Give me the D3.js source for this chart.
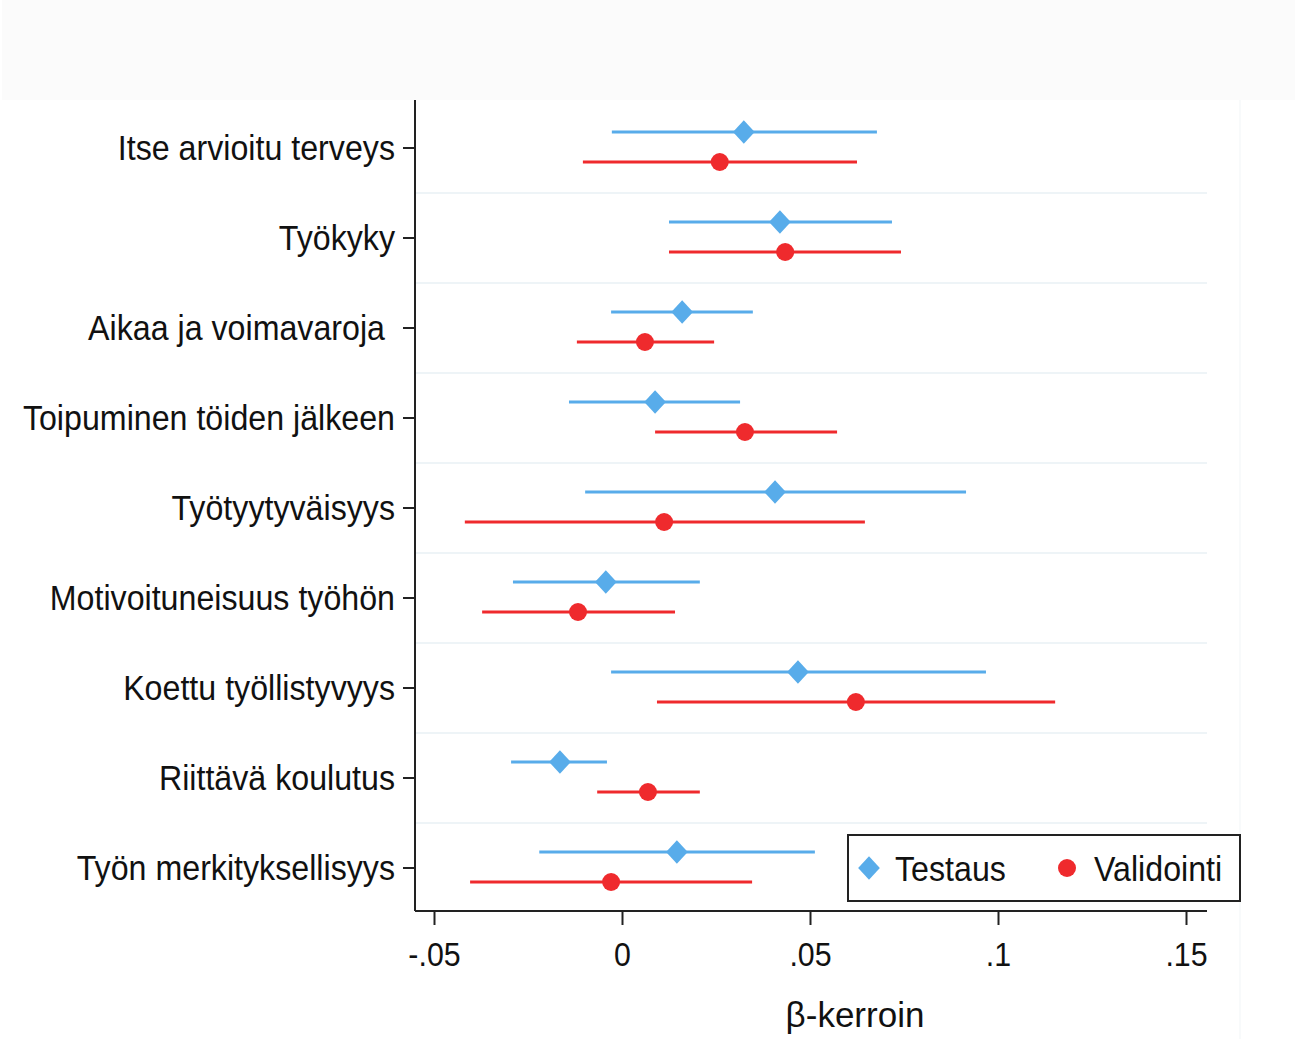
<!DOCTYPE html>
<html>
<head>
<meta charset="utf-8">
<script src="https://cdn.jsdelivr.net/npm/d3@7"></script>
<style>
  body { margin: 0; background: #fff; }
  text { font-family: "Liberation Sans", Arial, sans-serif; fill: #111; }
</style>
</head>
<body>
<div id="chart"></div>
<script>
// outcome variables, top to bottom
const outcomes = [
  "Itse arvioitu terveys",
  "Työkyky",
  "Aikaa ja voimavaroja",
  "Toipuminen töiden jälkeen",
  "Työtyytyväisyys",
  "Motivoituneisuus työhön",
  "Koettu työllistyvyys",
  "Riittävä koulutus",
  "Työn merkityksellisyys"
];

// Testaus (test sample): estimate, lower, upper
const testEst = [0.0324, 0.0420, 0.0160, 0.0088, 0.0407, -0.0043, 0.0468, -0.0165, 0.0146];
const testLo  = [-0.0027, 0.0125, -0.0029, -0.0141, -0.0098, -0.0290, -0.0029, -0.0295, -0.0220];
const testHi  = [0.0678, 0.0718, 0.0348, 0.0314, 0.0915, 0.0207, 0.0968, -0.0040, 0.0513];

// Validointi (validation sample)
const valEst = [0.0260, 0.0434, 0.0061, 0.0327, 0.0112, -0.0117, 0.0622, 0.0069, -0.0029];
const valLo  = [-0.0104, 0.0125, -0.0120, 0.0088, -0.0418, -0.0372, 0.0093, -0.0066, -0.0404];
const valHi  = [0.0625, 0.0742, 0.0245, 0.0572, 0.0646, 0.0141, 0.1152, 0.0207, 0.0346];

const xTicks = [-0.05, 0, 0.05, 0.1, 0.15];
const xTickLabels = ["-.05", "0", ".05", ".1", ".15"];

const width = 1296, height = 1039;
const blue = "#58acea", red = "#ef2a2d";
const sx = 0.92; // text in the original is a bit narrow

const svg = d3.select("#chart").append("svg")
  .attr("width", width)
  .attr("height", height);

// light band on top
svg.append("rect")
  .attr("x", 2).attr("y", 0)
  .attr("width", 1293).attr("height", 100)
  .attr("fill", "#fbfbfb");

// faint right edge of the graph region
svg.append("line")
  .attr("x1", 1240).attr("x2", 1240)
  .attr("y1", 100).attr("y2", 1039)
  .attr("stroke", "#f6f8fa").attr("stroke-width", 1.5);

const x = d3.scaleLinear()
  .domain([-0.05, 0.15])
  .range([434, 1186]);

const y = d3.scaleBand()
  .domain(outcomes)
  .range([103, 913]);

const axisLeftX = 415, axisY = 911;

// faint separators between rows
svg.selectAll("line.grid")
  .data(outcomes.slice(1))
  .enter()
  .append("line")
  .attr("class", "grid")
  .attr("x1", axisLeftX)
  .attr("x2", 1207)
  .attr("y1", d => y(d))
  .attr("y2", d => y(d))
  .attr("stroke", "#eef4f7")
  .attr("stroke-width", 2);

// y axis
const yAxis = svg.append("g")
  .attr("transform", `translate(${axisLeftX},0)`)
  .call(d3.axisLeft(y).tickSize(12).tickPadding(8));
yAxis.select(".domain")
  .attr("d", `M0,100V${axisY}`)
  .attr("stroke", "#222").attr("stroke-width", 2);
yAxis.selectAll(".tick line").attr("stroke", "#222").attr("stroke-width", 2);
yAxis.selectAll(".tick text")
  .style("font-size", "35px")
  .attr("fill", "#111")
  .attr("x", d => (d === "Aikaa ja voimavaroja" ? -30 : -20) / sx)
  .attr("transform", `scale(${sx},1)`)
  .attr("dy", "0.35em");

// x axis
const xAxis = svg.append("g")
  .attr("transform", `translate(0,${axisY})`)
  .call(d3.axisBottom(x).tickValues(xTicks)
    .tickFormat((d, i) => xTickLabels[i]).tickSize(14).tickPadding(18));
xAxis.select(".domain")
  .attr("d", `M${axisLeftX},0H1207`)
  .attr("stroke", "#222").attr("stroke-width", 2);
xAxis.selectAll(".tick line").attr("stroke", "#222").attr("stroke-width", 2);
xAxis.selectAll(".tick text")
  .style("font-size", "33px")
  .attr("fill", "#111")
  .attr("transform", `scale(${sx},1)`);

svg.append("text")
  .attr("x", 855).attr("y", 1027)
  .attr("text-anchor", "middle")
  .style("font-size", "35px")
  .text("β-kerroin");

const rows = outcomes.map((o, i) => ({
  name: o,
  t: [testEst[i], testLo[i], testHi[i]],
  v: [valEst[i], valLo[i], valHi[i]]
}));
const yc = d => y(d.name) + y.bandwidth() / 2;

// CI lines
svg.selectAll("line.ciT")
  .data(rows).enter().append("line")
  .attr("x1", d => x(d.t[1])).attr("x2", d => x(d.t[2]))
  .attr("y1", d => yc(d) - 16).attr("y2", d => yc(d) - 16)
  .attr("stroke", blue).attr("stroke-width", 3);

svg.selectAll("line.ciV")
  .data(rows).enter().append("line")
  .attr("x1", d => x(d.v[1])).attr("x2", d => x(d.v[2]))
  .attr("y1", d => yc(d) + 14).attr("y2", d => yc(d) + 14)
  .attr("stroke", red).attr("stroke-width", 3);

// markers
const diamond = d3.symbol().type(d3.symbolDiamond2).size(300);
svg.selectAll("path.ptT")
  .data(rows).enter().append("path")
  .attr("d", diamond)
  .attr("transform", d => `translate(${x(d.t[0])},${yc(d) - 16}) scale(1,1.08)`)
  .attr("fill", blue);

svg.selectAll("circle.ptV")
  .data(rows).enter().append("circle")
  .attr("cx", d => x(d.v[0])).attr("cy", d => yc(d) + 14)
  .attr("r", 9)
  .attr("fill", red);

// legend
const lg = svg.append("g");
lg.append("rect")
  .attr("x", 848).attr("y", 835)
  .attr("width", 392).attr("height", 66)
  .attr("fill", "#fff").attr("stroke", "#222").attr("stroke-width", 2);
lg.append("path")
  .attr("d", diamond)
  .attr("transform", "translate(869,868) scale(1,1.08)")
  .attr("fill", blue);
lg.append("text").attr("x", 895 / sx).attr("y", 881)
  .attr("transform", `scale(${sx},1)`)
  .style("font-size", "35px").text("Testaus");
lg.append("circle").attr("cx", 1067).attr("cy", 868).attr("r", 9).attr("fill", red);
lg.append("text").attr("x", 1094 / sx).attr("y", 881)
  .attr("transform", `scale(${sx},1)`)
  .style("font-size", "35px").text("Validointi");
</script>
</body>
</html>
